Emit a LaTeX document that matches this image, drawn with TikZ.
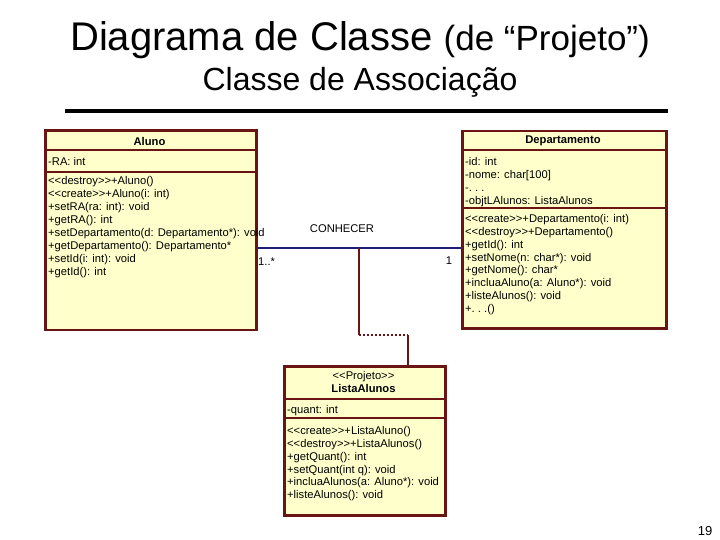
\documentclass[tikz,border=0pt]{standalone}
\usepackage{fontspec}
\setmainfont{Liberation Sans}
\usepackage{tikz}
\usetikzlibrary{positioning}
\definecolor{UMLFill}{HTML}{FFFFCC}
\definecolor{UMLBorder}{HTML}{6B1414}
\definecolor{UMLAssoc}{HTML}{1E1E78}

\tikzset{
  classbox/.style={draw=UMLBorder, fill=UMLFill, line width=2.5pt, anchor=north west, inner sep=0pt},
  classline/.style={draw=UMLBorder, line width=2pt},
  membertext/.style={anchor=north west, inner sep=0pt, align=left, font=\fontsize{11.2}{12.9}\selectfont},
  classname/.style={inner sep=0pt, align=center, font=\fontsize{11.2}{12.9}\selectfont},
  assocline/.style={draw=UMLAssoc, line width=2pt},
  linkline/.style={draw=UMLBorder, line width=2.5pt},
  smalllabel/.style={inner sep=0pt, font=\fontsize{11.2}{12.9}\selectfont}
}

\begin{document}
\begin{tikzpicture}[x=1pt, y=-1pt]
  \useasboundingbox (0,0) rectangle (720,540);

  % titulo
  \node (titulo) at (360,40) {\fontsize{40}{44}\selectfont Diagrama de Classe \fontsize{35}{40}\selectfont(de “Projeto”)};
  \node (subtitulo) at (360,82) {\fontsize{32}{36}\selectfont Classe de Associação};
  \draw[line width=4pt] (65,111) -- (668,111);

  % classe Aluno
  \node[classbox, minimum width=211pt, minimum height=199pt] (aluno) at (44,129.5) {};
  \draw[classline] (44,150.5) -- (255,150.5);
  \draw[classline] (44,172) -- (255,172);
  \node[classname] (alunoNome) at (149.5,141) {\bfseries Aluno};
  \node[membertext] (alunoAttr) at (48,157) {-RA: int};
  \node[membertext] (alunoOps) at (48,176.5) {%
    <{}<destroy>{}>+Aluno()\\
    <{}<create>{}>+Aluno(i: int)\\
    +setRA(ra: int): void\\
    +getRA(): int\\
    +setDepartamento(d: Departamento*): void\\
    +getDepartamento(): Departamento*\\
    +setId(i: int): void\\
    +getId(): int};

  % classe Departamento
  \node[classbox, minimum width=204pt, minimum height=197pt] (depto) at (461,130) {};
  \draw[classline] (461,150.5) -- (665,150.5);
  \draw[classline] (461,208) -- (665,208);
  \node[classname] (deptoNome) at (563,141) {\bfseries Departamento};
  \node[membertext] (deptoAttr) at (465,157) {%
    -id: int\\
    -nome: char[100]\\
    -.~.~.\\
    -objtLAlunos: ListaAlunos};
  \node[membertext] (deptoOps) at (465,214) {%
    <{}<create>{}>+Departamento(i: int)\\
    <{}<destroy>{}>+Departamento()\\
    +getId(): int\\
    +setNome(n: char*): void\\
    +getNome(): char*\\
    +incluaAluno(a: Aluno*): void\\
    +listeAlunos(): void\\
    +.~.~.()};

  % classe de associacao ListaAlunos
  \node[classbox, minimum width=161pt, minimum height=149pt] (lista) at (283,365) {};
  \draw[classline] (283,399) -- (444,399);
  \draw[classline] (283,418) -- (444,418);
  \node[classname] (listaNome) at (363.5,382) {<{}<Projeto>{}>\\\bfseries ListaAlunos};
  \node[membertext] (listaAttr) at (287,405) {-quant: int};
  \node[membertext] (listaOps) at (287,426) {%
    <{}<create>{}>+ListaAluno()\\
    <{}<destroy>{}>+ListaAlunos()\\
    +getQuant(): int\\
    +setQuant(int q): void\\
    +incluaAlunos(a: Aluno*): void\\
    +listeAlunos(): void};

  % associacao CONHECER
  \coordinate (meio) at (359,248);
  \coordinate (dobraA) at (359,335);
  \coordinate (dobraB) at (408,335);
  \draw[assocline] (aluno.east |- meio) -- (depto.west |- meio);
  \node[smalllabel] (nomeAssoc) at (342,229) {CONHECER};
  \node[smalllabel, anchor=north west] (multAluno) at (258,258) {1..*};
  \node[smalllabel] (multDepto) at (449,261) {1};

  % ligacao da classe de associacao
  \draw[linkline] (meio) -- (dobraA);
  \draw[UMLBorder, line width=2pt, dotted] (dobraA) -- (dobraB);
  \draw[linkline] (dobraB) -- (lista.north -| dobraB);

  % numero da pagina
  \node[inner sep=0pt] (pagina) at (705,531) {\fontsize{13}{15}\selectfont 19};
\end{tikzpicture}
\end{document}
